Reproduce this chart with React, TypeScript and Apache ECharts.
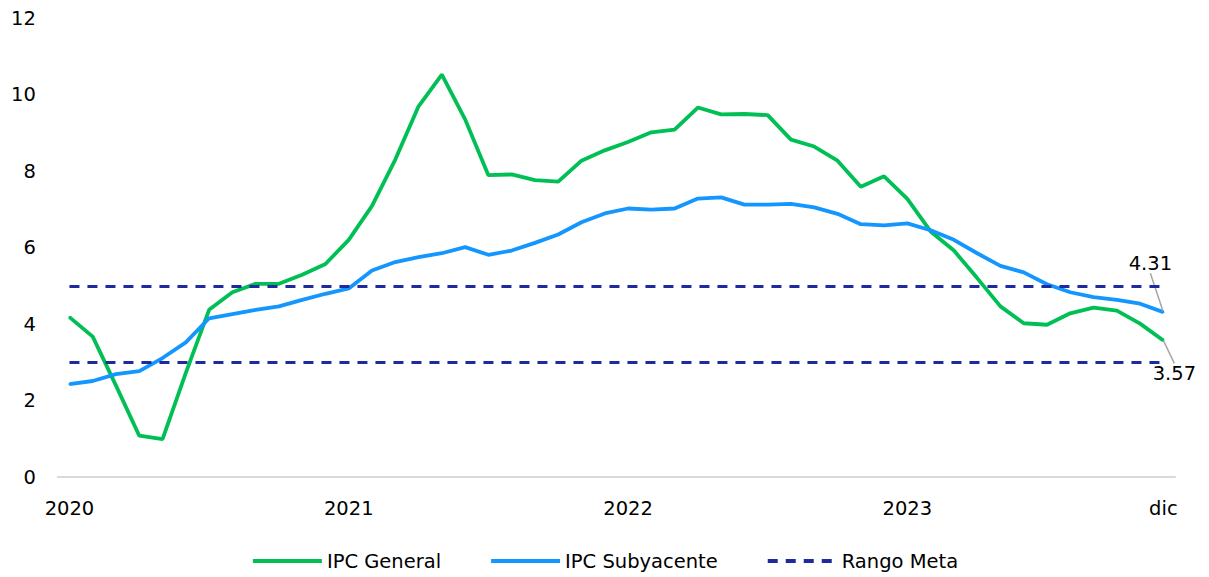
import React, { useEffect, useRef } from "react";
import * as echarts from "echarts";

const months: string[] = [
  "ene-20","feb-20","mar-20","abr-20","may-20","jun-20","jul-20","ago-20","sep-20","oct-20","nov-20","dic-20",
  "ene-21","feb-21","mar-21","abr-21","may-21","jun-21","jul-21","ago-21","sep-21","oct-21","nov-21","dic-21",
  "ene-22","feb-22","mar-22","abr-22","may-22","jun-22","jul-22","ago-22","sep-22","oct-22","nov-22","dic-22",
  "ene-23","feb-23","mar-23","abr-23","may-23","jun-23","jul-23","ago-23","sep-23","oct-23","nov-23","dic-23",
];

const tickLabels: Record<number, string> = { 0: "2020", 12: "2021", 24: "2022", 36: "2023", 47: "dic" };

const ipcGeneral: number[] = [
  4.18, 3.67, 2.39, 1.08, 0.99, 2.72, 4.37, 4.83, 5.05, 5.05, 5.29, 5.57,
  6.20, 7.09, 8.30, 9.69, 10.52, 9.35, 7.89, 7.91, 7.76, 7.72, 8.27, 8.54,
  8.76, 9.01, 9.08, 9.66, 9.48, 9.49, 9.46, 8.82, 8.64, 8.27, 7.59, 7.86,
  7.27, 6.42, 5.92, 5.20, 4.46, 4.02, 3.98, 4.28, 4.43, 4.35, 4.01, 3.57,
];

const ipcSubyacente: number[] = [
  2.43, 2.51, 2.69, 2.77, 3.11, 3.52, 4.15, 4.26, 4.37, 4.46, 4.63, 4.79,
  4.93, 5.40, 5.62, 5.75, 5.85, 6.01, 5.81, 5.92, 6.12, 6.34, 6.66, 6.89,
  7.02, 6.99, 7.02, 7.28, 7.31, 7.12, 7.12, 7.14, 7.05, 6.88, 6.61, 6.58,
  6.63, 6.45, 6.20, 5.85, 5.52, 5.35, 5.04, 4.83, 4.70, 4.63, 4.53, 4.31,
];

const rangoMeta: number[] = [5, 3];

const FONT = "DejaVu Sans";
const FS = 19.5;

function withEndLabel(values: number[], position: string) {
  return values.map((v, i) =>
    i === values.length - 1
      ? {
          value: v,
          label: {
            show: true,
            position,
            distance: 4,
            formatter: (p: any) => Number(p.value).toFixed(2),
            color: "#000",
            fontFamily: FONT,
            fontSize: FS,
          },
          labelLine: { show: true, lineStyle: { color: "#a6a6a6", width: 1.5 } },
        }
      : v
  );
}

export default function App() {
  const ref = useRef<HTMLDivElement>(null);
  useEffect(() => {
    if (!ref.current) return;
    const chart = echarts.init(ref.current, null, { renderer: "svg" });
    const last = months.length - 1;
    chart.setOption({
      animation: false,
      textStyle: { fontFamily: FONT },
      grid: { left: 49, right: 26, top: 10, bottom: 100, containLabel: false },
      legend: {
        bottom: 1,
        left: "center",
        itemWidth: 69,
        itemHeight: 14,
        itemGap: 48,
        itemStyle: { opacity: 0 },
        lineStyle: { width: 4 },
        textStyle: { fontFamily: FONT, fontSize: FS, color: "#000" },
        data: ["IPC General", "IPC Subyacente", "Rango Meta"],
      },
      xAxis: {
        type: "category",
        data: months,
        boundaryGap: true,
        axisLine: { show: true, lineStyle: { color: "#d9d9d9", width: 2 } },
        axisTick: { show: false },
        axisLabel: {
          interval: (i: number) => tickLabels[i] !== undefined,
          formatter: (_v: string, i: number) => tickLabels[i] ?? "",
          color: "#000",
          fontFamily: FONT,
          fontSize: FS,
          margin: 21,
        },
        splitLine: { show: false },
      },
      yAxis: {
        type: "value",
        min: 0,
        max: 12,
        interval: 2,
        axisLine: { show: false },
        axisTick: { show: false },
        splitLine: { show: false },
        axisLabel: { color: "#000", fontFamily: FONT, fontSize: FS, margin: 22 },
      },
      series: [
        {
          name: "IPC General",
          type: "line",
          data: withEndLabel(ipcGeneral, "bottom"),
          symbol: "circle",
          symbolSize: 2,
          showSymbol: true,
          lineStyle: { color: "#00BF55", width: 3.8 },
          itemStyle: { color: "#00BF55" },
          labelLayout: { dx: 11, dy: 18 },
          z: 3,
        },
        {
          name: "IPC Subyacente",
          type: "line",
          data: withEndLabel(ipcSubyacente, "top"),
          symbol: "circle",
          symbolSize: 2,
          showSymbol: true,
          lineStyle: { color: "#1496FF", width: 3.8 },
          itemStyle: { color: "#1496FF" },
          labelLayout: { dx: -13, dy: -34 },
          z: 4,
        },
        {
          name: "Rango Meta",
          type: "line",
          data: [],
          symbol: "none",
          lineStyle: { color: "#1F2A9E", width: 3, type: [10, 8] },
          itemStyle: { color: "#1F2A9E" },
          z: 2,
          markLine: {
            silent: true,
            symbol: "none",
            label: { show: false },
            lineStyle: { color: "#1F2A9E", width: 3, type: [10, 8] },
            data: rangoMeta.map((m) => [
              { coord: [months[0], m] },
              { coord: [months[last], m] },
            ]),
          },
        },
      ],
    });
    return () => chart.dispose();
  }, []);
  return <div ref={ref} style={{ width: 1193, height: 569 }} />;
}
